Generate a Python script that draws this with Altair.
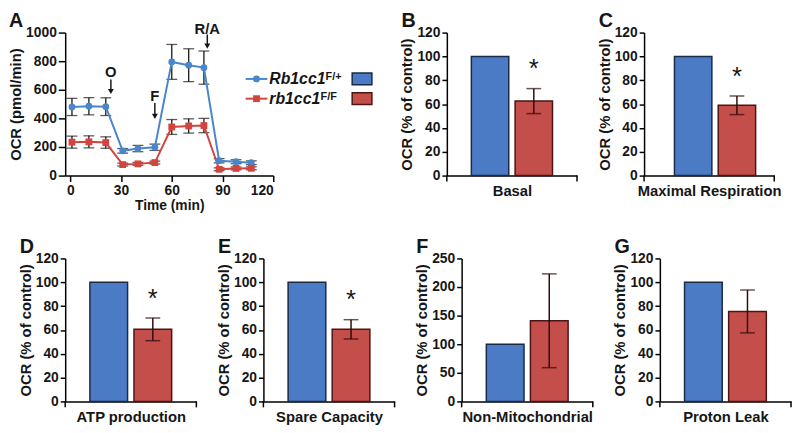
import altair as alt
import pandas as pd

# ---------------- Panel A: Seahorse OCR time course ----------------
time_min = [1, 11, 21, 31, 40, 50, 60, 70, 79, 88, 98, 107]
ctrl_ocr = [480, 485, 482, 173, 189, 198, 795, 772, 755, 104, 97, 90]
ctrl_sem = [60, 60, 62, 16, 22, 22, 122, 115, 116, 15, 14, 13]
ko_ocr = [234, 236, 231, 77, 82, 91, 340, 347, 350, 44, 50, 51]
ko_sem = [42, 42, 40, 10, 10, 10, 52, 50, 50, 10, 10, 10]

genotypes = ["Rb1cc1", "rb1cc1"]
genotype_sup = ["F/+", "F/F"]

inj_labels = ["O", "F", "R/A"]
inj_time = [24, 50, 81]
inj_label_ocr = [725, 554, 1027]
inj_arrow_from = [672, 507, 986]
inj_arrow_to = [588, 414, 905]

time_ticks = [0, 30, 60, 90, 120]
ocr_ticks = [0, 200, 400, 600, 800, 1000]

# ---------------- Panels B-G: % of control ----------------
metrics = ["Basal", "Maximal Respiration", "ATP production",
           "Spare Capacity", "Non-Mitochondrial", "Proton Leak"]
panel_letters = ["B", "C", "D", "E", "F", "G"]
ctrl_pct = [100, 100, 100, 100, 100, 100]
ko_pct = [62.5, 59, 60.5, 60.5, 141, 75.5]
ko_pct_err = [10.5, 7.8, 9.5, 8.1, 82, 18]
significant = [True, True, True, True, False, False]
y_max = [120, 120, 120, 120, 250, 120]
y_step = [20, 20, 20, 20, 50, 20]

# ---------------- styles ----------------
LINE_COLORS = ["#4a86cc", "#d4443f"]
BAR_COLORS = ["#4a7bc4", "#c44e4a"]
BAR_EDGES = ["#1c2a45", "#4a1515"]
SHAPES = ["circle", "square"]
SUP_X = [264, 259]
INK = "#161616"
ERR_BAR = "#2e0c0c"
FONT = "Liberation Sans"
H = 145

one = pd.DataFrame({"k": [0]})


def deco():
    return alt.Chart(one)


# ---------------- Panel A ----------------
n = len(time_min)
ts = pd.DataFrame({
    "time": time_min * 2,
    "genotype": [genotypes[0]] * n + [genotypes[1]] * n,
    "ocr": ctrl_ocr + ko_ocr,
    "sem": ctrl_sem + ko_sem,
})
ts["lo"] = ts["ocr"] - ts["sem"]
ts["hi"] = ts["ocr"] + ts["sem"]

WA = 211
x_scale_A = alt.Scale(domain=[-3, 120], nice=False, zero=False)
y_scale_A = alt.Scale(domain=[0, 1000], nice=False)
x_axis_A = alt.Axis(values=time_ticks, title="Time (min)", tickSize=6, format="d",
                    labelPadding=2, titlePadding=1, titleFontSize=14,
                    labelFontSize=14)
y_axis_A = alt.Axis(values=ocr_ticks, title="OCR (pmol/min)", tickSize=7, format="d",
                    labelPadding=2, titlePadding=2, titleFontSize=15,
                    labelFontSize=14)


def xA(field="time"):
    return alt.X(f"{field}:Q", scale=x_scale_A, axis=x_axis_A)


def yA(field):
    return alt.Y(f"{field}:Q", scale=y_scale_A, axis=y_axis_A)


col_line = alt.Color("genotype:N", scale=alt.Scale(domain=genotypes, range=LINE_COLORS), legend=None)
shp = alt.Shape("genotype:N", scale=alt.Scale(domain=genotypes, range=SHAPES), legend=None)

err_rule = alt.Chart(ts).mark_rule(color=INK, strokeWidth=1.3).encode(
    x=xA(), y=yA("lo"), y2="hi:Q")
err_caps = alt.Chart(ts).transform_fold(["lo", "hi"], as_=["end", "val"]).mark_tick(
    orient="horizontal", size=11, thickness=1.3, color=INK).encode(x=xA(), y=yA("val"))
lines = alt.Chart(ts).mark_line(strokeWidth=2).encode(x=xA(), y=yA("ocr"), color=col_line)
pts = alt.Chart(ts).mark_point(filled=True, size=48, opacity=1).encode(
    x=xA(), y=yA("ocr"), color=col_line, shape=shp)

ann = pd.DataFrame({"label": inj_labels, "time": inj_time, "ly": inj_label_ocr,
                    "a0": inj_arrow_from, "a1": inj_arrow_to})
ann_text = alt.Chart(ann).mark_text(fontSize=15, fontWeight="bold", baseline="middle",
                                    color=INK, clip=False).encode(
    x=xA(), y=yA("ly"), text="label:N")
ann_rule = alt.Chart(ann).mark_rule(strokeWidth=1.5, color=INK, clip=False).encode(
    x=xA(), y=yA("a0"), y2="a1:Q")
ann_head = alt.Chart(ann).mark_point(shape="triangle-down", filled=True, size=36,
                                     color=INK, opacity=1, clip=False).encode(
    x=xA(), y=yA("a1"))

letter_A = deco().mark_text(align="left", baseline="top", fontSize=20, fontWeight="bold",
                            color=INK).encode(x=alt.value(-57), y=alt.value(-22),
                                              text=alt.value("A"))

legend_layers = []
for i, (g, sup) in enumerate(zip(genotypes, genotype_sup)):
    yy = 47 + 20 * i
    legend_layers += [
        deco().mark_rule(color=LINE_COLORS[i], strokeWidth=2).encode(
            x=alt.value(183), x2=alt.value(205), y=alt.value(yy)),
        deco().mark_point(shape=SHAPES[i], filled=True, size=48, color=LINE_COLORS[i],
                          opacity=1).encode(x=alt.value(194), y=alt.value(yy)),
        deco().mark_text(align="left", baseline="middle", fontSize=16, fontWeight="bold",
                         fontStyle="italic", color=INK).encode(
            x=alt.value(207), y=alt.value(yy), text=alt.value(g)),
        deco().mark_text(align="left", baseline="top", fontSize=11, fontWeight="bold",
                         color=INK).encode(
            x=alt.value(SUP_X[i]), y=alt.value(yy - 8), text=alt.value(sup)),
        deco().mark_rect(fill=BAR_COLORS[i], stroke=BAR_EDGES[i], strokeWidth=1.5).encode(
            x=alt.value(291), x2=alt.value(311), y=alt.value(yy - 6), y2=alt.value(yy + 6)),
    ]

extender = deco().mark_rule(opacity=0).encode(x=alt.value(320), y=alt.value(0), y2=alt.value(2))

chartA = alt.layer(err_rule, err_caps, lines, pts, ann_rule, ann_head, ann_text,
                   letter_A, *legend_layers, extender).properties(width=WA, height=H)


# ---------------- Bar panels ----------------
def bar_panel(i, W, align=0.5):
    df = pd.DataFrame({"genotype": genotypes,
                       "pct": [ctrl_pct[i], ko_pct[i]],
                       "err": [0, ko_pct_err[i]]})
    x_scale = alt.Scale(domain=genotypes, paddingInner=0.145, paddingOuter=0.56, align=align)
    x_axis = alt.Axis(title=metrics[i], labels=False, ticks=False, titlePadding=8,
                      titleFontSize=15)
    y_scale = alt.Scale(domain=[0, y_max[i]], nice=False)
    y_axis = alt.Axis(values=list(range(0, y_max[i] + 1, y_step[i])), format="d",
                      title="OCR (% of control)", tickSize=5, labelPadding=2,
                      titlePadding=2, titleFontSize=15, labelFontSize=14)
    xe = alt.X("genotype:N", scale=x_scale, axis=x_axis, sort=genotypes)

    bars = alt.Chart(df).mark_bar(strokeWidth=1.5).encode(
        x=xe,
        y=alt.Y("pct:Q", scale=y_scale, axis=y_axis),
        fill=alt.Fill("genotype:N", scale=alt.Scale(domain=genotypes, range=BAR_COLORS), legend=None),
        stroke=alt.Stroke("genotype:N", scale=alt.Scale(domain=genotypes, range=BAR_EDGES), legend=None),
    )
    errs = alt.Chart(df).transform_filter("datum.err > 0").transform_calculate(
        lo="datum.pct - datum.err", hi="datum.pct + datum.err")
    rule = errs.mark_rule(color=ERR_BAR, strokeWidth=1.5).encode(
        x=xe, y=alt.Y("lo:Q", scale=y_scale, axis=y_axis), y2="hi:Q")
    caps = errs.transform_fold(["lo", "hi"], as_=["end", "val"]).mark_tick(
        orient="horizontal", size=15, thickness=1.5, color=ERR_BAR).encode(
        x=xe, y=alt.Y("val:Q", scale=y_scale, axis=y_axis))
    layers = [bars, rule, caps]
    if significant[i]:
        star = errs.transform_calculate(sy="datum.pct + datum.err + 22").mark_text(
            text="*", fontSize=26, fontWeight="normal", baseline="middle", dy=7,
            color=INK).encode(x=xe, y=alt.Y("sy:Q", scale=y_scale, axis=y_axis))
        layers.append(star)
    layers += [
        deco().mark_rule(color="black", strokeWidth=1.5).encode(
            x=alt.value(W), y=alt.value(H), y2=alt.value(H + 6)),
        deco().mark_rule(color="black", strokeWidth=1.5).encode(
            x=alt.value(0), y=alt.value(H), y2=alt.value(H + 6)),
        deco().mark_text(align="left", baseline="top", fontSize=20, fontWeight="bold",
                         color=INK).encode(x=alt.value(-46), y=alt.value(-22),
                                           text=alt.value(panel_letters[i])),
    ]
    return alt.layer(*layers).properties(width=W, height=H)


row1 = alt.hconcat(chartA, bar_panel(0, 132), bar_panel(1, 132, 0.62), spacing=19)
row2 = alt.hconcat(*[bar_panel(i, 133) for i in range(2, 6)], spacing=19)

chart = alt.vconcat(row1, row2, spacing=25).properties(
    padding=0, background="white"
).configure(font=FONT).configure_view(stroke=None).configure_axis(
    grid=False, domainColor="black", domainWidth=1.5, tickColor="black", tickWidth=1.5,
    labelColor=INK, titleColor=INK, labelFont=FONT, titleFont=FONT,
    labelFontWeight="bold", titleFontWeight="bold",
)

chart.save("out.html", embed_options={"renderer": "svg", "actions": False})
